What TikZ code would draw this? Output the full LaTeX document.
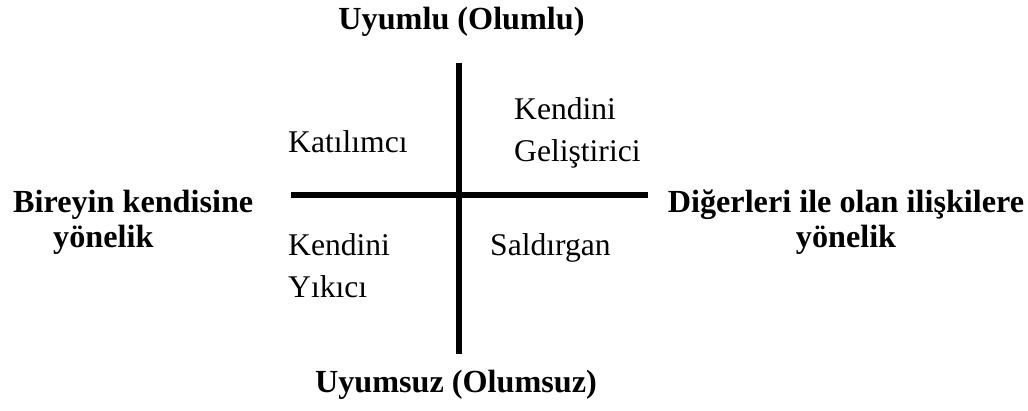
\documentclass[tikz,border=0pt]{standalone}
\usepackage{fontspec}
\setmainfont{Liberation Serif}
\begin{document}
\begin{tikzpicture}[x=1pt,y=-1pt,
  lbl/.style={inner sep=0pt,anchor=base west,font=\fontsize{31.6}{36}\selectfont},
  blbl/.style={inner sep=0pt,anchor=base west,font=\fontsize{32.2}{36}\selectfont\bfseries},
  cbl/.style={inner sep=0pt,anchor=base,font=\fontsize{32.2}{36}\selectfont\bfseries},
  axis/.style={line width=6pt}]
\useasboundingbox (0,0) rectangle (1028,410);
\coordinate (vt) at (459,63);
\coordinate (vb) at (459,354);
\coordinate (hl) at (291,194.5);
\coordinate (hr) at (648,194.5);
\draw[axis] (vt) -- (vb);
\draw[axis] (hl) -- (hr);
\node[cbl] (top) at (461.5,29) {Uyumlu (Olumlu)};
\node[cbl] (bot) at (456,392) {Uyumsuz (Olumsuz)};
\node[blbl] (l1) at (13,212) {Bireyin kendisine};
\node[blbl] (l2) at (53,247) {yönelik};
\node[cbl] (r1) at (846,212) {Diğerleri ile olan ilişkilere};
\node[cbl] (r2) at (846,247) {yönelik};
\node[lbl] (kat) at (288,152) {Katılımcı};
\node[lbl] (kg1) at (514,119) {Kendini};
\node[lbl] (kg2) at (514,161) {Geliştirici};
\node[lbl] (ky1) at (288,255) {Kendini};
\node[lbl] (ky2) at (288,297) {Yıkıcı};
\node[lbl] (sal) at (490,255) {Saldırgan};
\end{tikzpicture}
\end{document}
